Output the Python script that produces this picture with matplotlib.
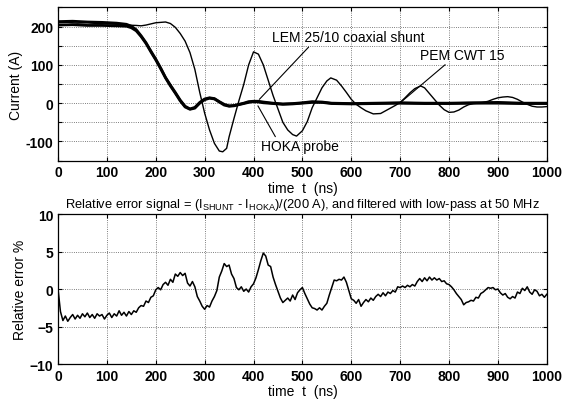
import numpy as np
import matplotlib
matplotlib.use("Agg")
import matplotlib.pyplot as plt
from matplotlib.ticker import MultipleLocator, FuncFormatter

plt.rcParams['font.family'] = ['Liberation Sans', 'DejaVu Sans']
plt.rcParams['mathtext.fontset'] = 'custom'
plt.rcParams['mathtext.rm'] = 'Liberation Sans'

# --- top panel: currents (A) vs time (ns) ---
t_pem = [0, 20, 40, 60, 80, 100, 120, 140, 160, 170, 180, 190, 200, 210, 220,
         230, 240, 250, 260, 270, 280, 290, 300, 310, 320, 330, 337, 345, 350,
         360, 370, 380, 390, 400, 410, 420, 430, 440, 450, 460, 470, 480, 488,
         500, 510, 520, 530, 540, 550, 558, 570, 580, 590, 600, 610, 620, 630,
         645, 660, 670, 680, 690, 700, 710, 720, 730, 742, 750, 760, 770, 780,
         790, 800, 810, 820, 830, 840, 850, 860, 870, 880, 890, 900, 910, 920,
         930, 940, 950, 960, 970, 980, 990, 1000]
i_pem = [210, 211, 209, 210, 208, 207, 206, 204, 203, 202, 204, 207, 210, 211,
         212, 208, 198, 182, 162, 132, 88, 28, -26, -70, -105, -125, -127,
         -118, -88, -40, 6, 49, 100, 134, 128, 100, 60, 20, -15, -50, -70, -82,
         -86, -72, -48, -12, 14, 40, 58, 66, 60, 45, 28, 10, -3, -12, -20, -28,
         -27, -20, -13, -6, 2, 14, 27, 38, 45, 40, 25, 10, -5, -17, -24, -23,
         -18, -10, -4, -1, 0, 2, 5, 10, 14, 16, 17, 15, 10, 3, -3, -8, -10,
         -10, -9]

t_fast = [0, 30, 60, 90, 120, 140, 150, 160, 170, 180, 190, 200, 210, 220, 230,
          240, 250, 260, 270, 280, 290, 300, 310, 320, 330, 340, 350, 360, 370,
          380, 390, 400, 410, 420, 440, 460, 480, 500, 520, 540, 560, 600, 650,
          700, 750, 800, 850, 900, 950, 1000]
i_lem = [213, 214, 212, 211, 209, 206, 201, 192, 176, 158, 136, 115, 92, 67,
         47, 28, 8, -8, -15, -11, 2, 11, 14, 12, 4, -3, -7, -6, -3, 0, 4, 5, 5,
         3, 0, -2, -1, 1, 4, 3, 0, -1, 0, 1, 0, 0, 1, 2, 0, 0]
i_hoka = [204, 205, 203, 203, 202, 201, 197, 189, 174, 156, 134, 113, 90, 66,
          45, 26, 6, -10, -16, -13, 0, 9, 13, 11, 3, -5, -8, -7, -4, -1, 2, 4,
          3, 1, -1, -3, -2, 0, 2, 2, -1, -2, -1, 0, -1, -1, 0, 0, -1, -1]

# --- bottom panel: relative error (%) every 5 ns ---
t_err = list(range(0, 1001, 5))
err = [0.0, -3.0, -4.2, -3.6, -4.3, -3.8, -3.4, -4.0, -3.5, -3.9,
       -3.3, -3.7, -3.2, -3.8, -3.4, -3.9, -3.3, -3.6, -3.4, -4.0,
       -3.5, -3.2, -3.8, -3.3, -3.6, -2.9, -3.5, -3.1, -3.6, -3.0,
       -3.4, -2.9, -3.1, -2.5, -2.2, -2.3, -1.6, -1.8, -1.1, -0.9,
       -0.1, 0.2, -0.1, 0.6, 0.9, 0.5, 1.3, 0.9, 2.0, 1.7,
       2.2, 1.8, 2.1, 0.8, 0.4, 1.0, 0.3, -1.0, -1.6, -2.3,
       -2.7, -2.2, -2.4, -1.6, -1.0, -0.2, 1.6, 2.4, 3.4, 3.0,
       3.2, 2.0, 1.4, 0.2, -0.1, 0.3, -0.3, 0.0, -0.4, 0.3,
       0.7, 1.5, 2.6, 3.8, 4.8, 4.4, 3.2, 3.0, 1.6, 0.6,
       -0.3, -1.2, -1.8, -1.5, -1.2, -1.6, -0.8, -1.4, -0.5, -0.1,
       0.2, -0.6, -1.3, -2.0, -2.5, -2.6, -2.8, -2.5, -2.8, -2.3,
       -1.9, -0.8, 0.2, 1.2, 1.1, 1.3, 1.2, 1.6, 0.9, -0.2,
       -1.3, -1.5, -1.9, -1.4, -2.3, -1.8, -1.4, -1.7, -1.2, -1.5,
       -1.0, -0.7, -1.0, -0.5, -0.9, -0.4, -0.6, -0.2, -0.4, 0.3,
       0.2, 0.4, 0.2, 0.5, 0.3, 0.6, 0.4, 1.0, 1.4, 1.0,
       1.5, 1.1, 1.6, 1.2, 1.5, 1.2, 1.4, 1.0, 1.1, 0.7,
       0.6, 0.3, -0.1, -0.6, -1.0, -1.4, -2.1, -1.8, -1.7, -1.5,
       -1.6, -1.1, -1.2, -0.6, -0.4, -0.1, 0.2, 0.1, 0.2, -0.1,
       0.0, -0.5, -0.8, -0.6, -1.1, -1.3, -1.0, -1.2, -0.4, -0.6,
       0.1, -0.2, 0.3, -0.4, -0.7, -0.1, -0.3, -0.9, -0.7, -1.1,
       -0.7]

fig = plt.figure(figsize=(5.71, 4.02), dpi=100)
ax1 = fig.add_axes([0.1016, 0.598, 0.856, 0.381])
ax2 = fig.add_axes([0.1016, 0.092, 0.856, 0.373])


def style_axes(ax):
    ax.grid(True, which='major', linestyle=':', color='#555555', linewidth=0.6)
    ax.tick_params(direction='in', top=True, right=True, length=3, width=0.8,
                   labelsize=10)
    for lbl in ax.get_xticklabels() + ax.get_yticklabels():
        lbl.set_fontweight('bold')
    for sp in ax.spines.values():
        sp.set_linewidth(0.9)


ax1.plot(t_pem, i_pem, color='black', linewidth=1.0)
ax1.plot(t_fast, i_lem, color='black', linewidth=2.0)
ax1.plot(t_fast, i_hoka, color='black', linewidth=2.0)
ax1.set_xlim(0, 1000)
ax1.set_ylim(-150, 250)
ax1.xaxis.set_major_locator(MultipleLocator(100))
ax1.yaxis.set_major_locator(MultipleLocator(50))
ax1.yaxis.set_major_formatter(FuncFormatter(lambda v, p: f'{int(v)}' if v % 100 == 0 else ''))
style_axes(ax1)
ax1.set_ylabel('Current (A)', fontsize=10, labelpad=2)
ax1.set_xlabel('time  t  (ns)', fontsize=10, labelpad=1)

ax1.annotate('LEM 25/10 coaxial shunt', xy=(412, 10), xytext=(437, 172),
             fontsize=10, va='center', ha='left',
             arrowprops=dict(arrowstyle='-', color='black', lw=0.8,
                             shrinkA=0, shrinkB=0, relpos=(0.26, 0.0)))
ax1.annotate('HOKA probe', xy=(409, -7), xytext=(416, -113),
             fontsize=10, va='center', ha='left',
             arrowprops=dict(arrowstyle='-', color='black', lw=0.8,
                             shrinkA=0, shrinkB=0, relpos=(0.2, 1.0)))
ax1.annotate('PEM CWT 15', xy=(701, 2), xytext=(740, 126),
             fontsize=10, va='center', ha='left',
             arrowprops=dict(arrowstyle='-', color='black', lw=0.8,
                             shrinkA=0, shrinkB=0, relpos=(0.34, 0.0)))

ax2.plot(t_err, err, color='black', linewidth=1.1)
ax2.set_xlim(0, 1000)
ax2.set_ylim(-10, 10)
ax2.xaxis.set_major_locator(MultipleLocator(100))
ax2.yaxis.set_major_locator(MultipleLocator(5))
style_axes(ax2)
ax2.set_ylabel('Relative error %', fontsize=10, labelpad=2)
ax2.set_xlabel('time  t  (ns)', fontsize=10, labelpad=1)
ax2.set_title(r'Relative error signal = (I$_{\rm SHUNT}$ - I$_{\rm HOKA}$)/(200 A), '
              'and filtered with low-pass at 50 MHz', fontsize=9.3, pad=5)

fig.savefig('out.png', dpi=100)
